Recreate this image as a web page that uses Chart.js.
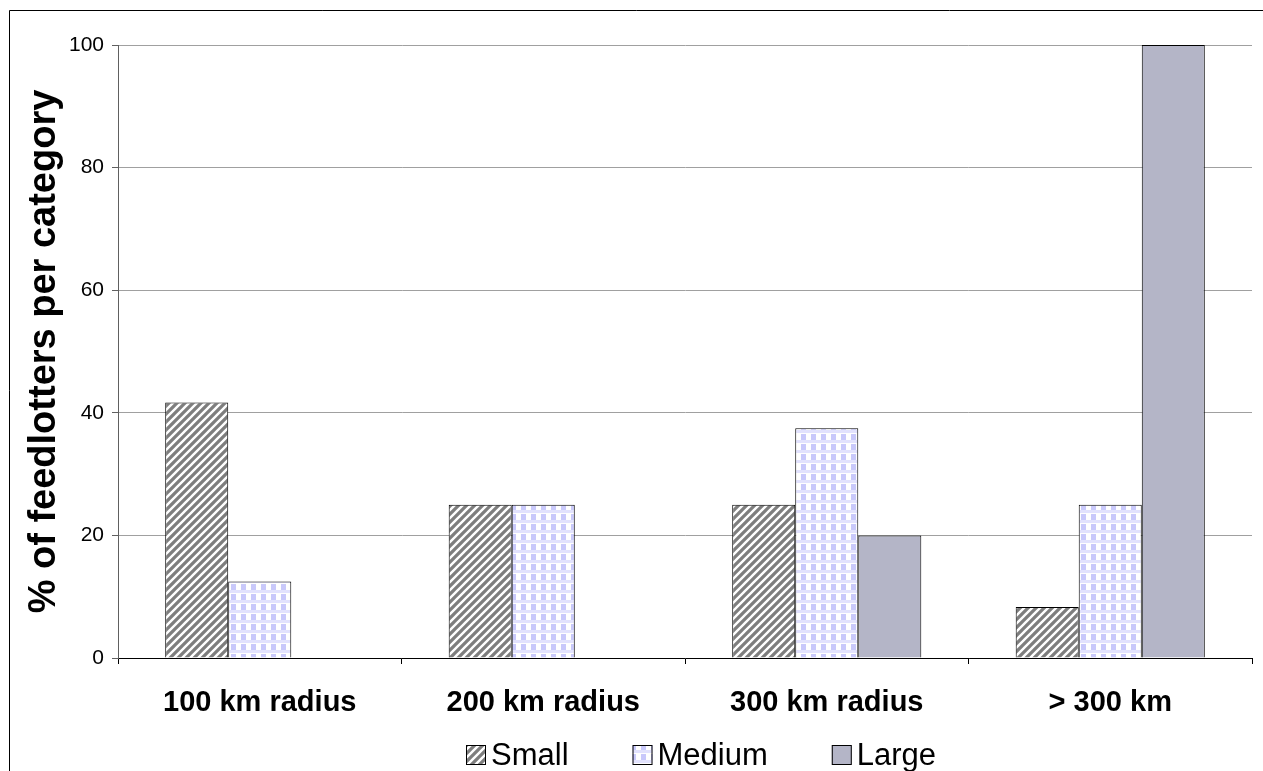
<!DOCTYPE html>
<html>
<head>
<meta charset="utf-8">
<title>Feedlotters per category</title>
<script src="https://cdn.jsdelivr.net/npm/chart.js@4.4.1/dist/chart.umd.min.js"></script>
<style>
  html, body { margin: 0; padding: 0; background: #fff; }
  #wrap { width: 1263px; height: 771px; position: relative; }
</style>
</head>
<body>
<div id="wrap"><canvas id="myChart" width="1263" height="771"></canvas></div>
<script>
const categories = ["100 km radius", "200 km radius", "300 km radius", "> 300 km"];
const smallValues = [41.7, 25, 25, 8.3];
const mediumValues = [12.5, 25, 37.5, 25];
const largeValues = [0, 0, 20, 100];
const yTicks = [0, 20, 40, 60, 80, 100];
const yTitle = "% of feedlotters per category";

const FONT = 'Liberation Sans, Arial, sans-serif';

// diagonal hatch for the small farms
function stripePattern() {
    const c = document.createElement('canvas');
    c.width = 8; c.height = 8;
    const g = c.getContext('2d');
    g.fillStyle = '#7e7e7e';
    g.fillRect(0, 0, 8, 8);
    g.strokeStyle = '#ffffff';
    g.lineWidth = 2.4;
    g.beginPath();
    g.moveTo(-2, 10); g.lineTo(10, -2);
    g.moveTo(-6, 6); g.lineTo(6, -6);
    g.moveTo(2, 14); g.lineTo(14, 2);
    g.stroke();
    return g.createPattern(c, 'repeat');
}

// light lavender check for the medium farms
function checkPattern() {
    const c = document.createElement('canvas');
    c.width = 10; c.height = 10;
    const g = c.getContext('2d');
    g.fillStyle = '#ffffff';
    g.fillRect(0, 0, 10, 10);
    g.fillStyle = '#e2e2fd';
    g.fillRect(0, 0, 10, 3);
    g.fillStyle = '#c9c9fb';
    g.fillRect(1, 4, 5, 6);
    return g.createPattern(c, 'repeat');
}

const frame = {
    id: 'frame',
    beforeDraw(chart) {
        const ctx = chart.ctx;
        ctx.save();
        ctx.fillStyle = '#ffffff';
        ctx.fillRect(0, 0, chart.width, chart.height);
        ctx.strokeStyle = '#000000';
        ctx.lineWidth = 1;
        ctx.beginPath();
        ctx.moveTo(9.5, chart.height);
        ctx.lineTo(9.5, 10.5);
        ctx.lineTo(chart.width, 10.5);
        ctx.stroke();
        ctx.restore();
    }
};

// legend row under the axis: box, small gap, name
const bottomLegend = {
    id: 'bottomLegend',
    afterDraw(chart) {
        const ctx = chart.ctx;
        ctx.save();
        ctx.font = '31px ' + FONT;
        ctx.textBaseline = 'middle';
        let x = 466;
        const y = 755;
        chart.data.datasets.forEach(ds => {
            ctx.fillStyle = ds.backgroundColor;
            ctx.fillRect(x, y - 10, 20, 20);
            ctx.strokeStyle = '#000';
            ctx.lineWidth = 1;
            ctx.strokeRect(x + 0.5, y - 9.5, 19, 19);
            ctx.fillStyle = '#000';
            ctx.fillText(ds.label, x + 25, y + 1);
            x += 25 + ctx.measureText(ds.label).width + 64;
        });
        ctx.restore();
    }
};

const ctx = document.getElementById('myChart').getContext('2d');
const chart = new Chart(ctx, {
    type: 'bar',
    data: {
        labels: categories,
        datasets: [
            { label: 'Small', data: smallValues, backgroundColor: stripePattern(), borderColor: '#000', borderWidth: 1 },
            { label: 'Medium', data: mediumValues, backgroundColor: checkPattern(), borderColor: '#000', borderWidth: 1 },
            { label: 'Large', data: largeValues, backgroundColor: '#b4b5c7', borderColor: '#000', borderWidth: 1 }
        ]
    },
    plugins: [frame, bottomLegend],
    options: {
        responsive: false,
        animation: false,
        devicePixelRatio: 1,
        layout: { padding: { left: 10, top: 45, right: 11, bottom: 6 } },
        datasets: { bar: { categoryPercentage: 0.667, barPercentage: 1.0 } },
        plugins: {
            tooltip: { enabled: false },
            legend: { display: false }
        },
        scales: {
            x: {
                offset: true,
                afterFit(scale) { scale.height = 107; },
                grid: { display: true, drawOnChartArea: false, offset: true, color: '#000', tickLength: 6 },
                border: { color: '#000' },
                ticks: {
                    color: '#000',
                    padding: 22,
                    font: { family: FONT, size: 29, weight: 'bold' }
                }
            },
            y: {
                min: 0,
                max: 100,
                afterFit(scale) { scale.width = 108; },
                afterBuildTicks(scale) { scale.ticks = yTicks.map(v => ({ value: v })); },
                grid: { color: '#a0a0a0', tickLength: 6, tickColor: '#606060' },
                border: { color: '#606060' },
                ticks: {
                    color: '#000',
                    padding: 8,
                    font: { family: FONT, size: 21 }
                },
                title: {
                    display: true,
                    text: yTitle,
                    color: '#000',
                    padding: { top: 12, bottom: 0 },
                    font: { family: FONT, size: 38, weight: 'bold' }
                }
            }
        }
    }
});
</script>
</body>
</html>
